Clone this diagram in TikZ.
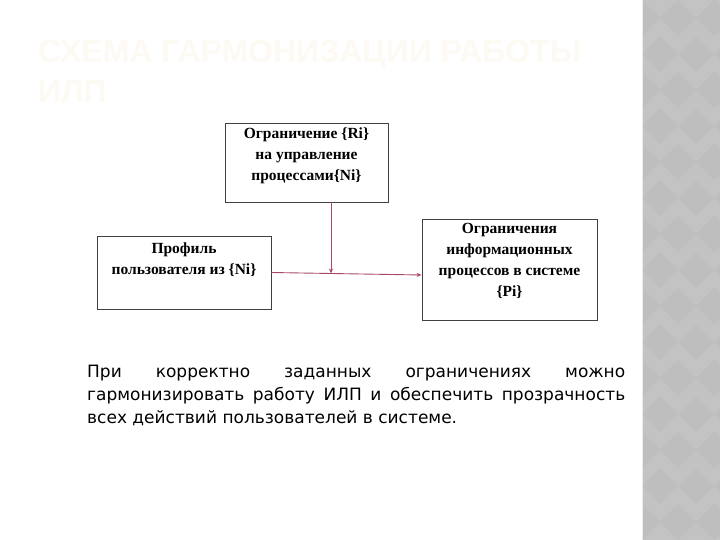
\documentclass[tikz,border=0pt]{standalone}
\usepackage{fontspec}
\setmainfont{Liberation Serif}
\newfontfamily\bodyfont{DejaVu Sans}
\newfontfamily\titlefont{Liberation Sans}
\usetikzlibrary{arrows.meta,calc}
\definecolor{conncol}{HTML}{A8466E}
\definecolor{titlecol}{HTML}{FDF9F3}
\definecolor{stripcol}{HTML}{C3C3C3}
\definecolor{stripdark}{HTML}{BEBEBE}
\tikzset{
  box/.style={draw=black!75, line width=0.9pt, rectangle, inner sep=0pt},
  boxtext/.style={font=\fontsize{15.5}{21}\selectfont\bfseries, align=center, anchor=north, inner sep=0pt},
  conn/.style={draw=conncol, line width=0.9pt, -{Stealth[length=5pt,width=4pt]}},
}
\begin{document}
\begin{tikzpicture}[x=1pt,y=-1pt]
\useasboundingbox (0,0) rectangle (720,540);
% right strip
\fill[stripcol] (642,0) rectangle (720,540);
\begin{scope}
\clip (642,0) rectangle (720,540);
\foreach \i in {0,...,3}{
  \foreach \j in {0,...,16}{
    \fill[stripdark] ({642+\i*36+mod(\j,2)*18},{\j*36}) -- ++(18,18) -- ++(-18,18) -- ++(-18,-18) -- cycle;
  }
}
\end{scope}
\draw[white!85!gray, line width=1pt] (642.5,0) -- (642.5,540);
% title
\node[anchor=north west, inner sep=0pt, text=titlecol, align=left,
      font=\titlefont\bfseries\fontsize{32}{40}\selectfont] (title) at (38,40)
  {СХЕМА ГАРМОНИЗАЦИИ РАБОТЫ\\ИЛП};
% boxes
\node[box, minimum width=163pt, minimum height=79pt] (top) at (306.5,162.5) {};
\node[box, minimum width=174pt, minimum height=73pt] (left) at (184,272.5) {};
\node[box, minimum width=175pt, minimum height=101pt] (right) at (509.5,269.5) {};
\node[boxtext] (toptext) at (306.5,128) {Ограничение \{Ri\}\\на управление\\процессами\{Ni\}};
\node[boxtext] (lefttext) at (184,243) {Профиль\\пользователя из \{Ni\}};
\node[boxtext] (righttext) at (509.5,223) {Ограничения\\информационных\\процессов в системе\\\{Pi\}};
% connectors
\coordinate (j) at (331,273.5);
\draw[conn] (left.east) -- ($(right.west)+(0,5.5)$);
\draw[conn] ($(top.south)+(24.5,0)$) -- (j);
% paragraph
\node[anchor=north west, inner sep=0pt, text width=538pt, align=justify,
      font=\bodyfont\fontsize{17}{23}\selectfont] (para) at (87,365)
  {При корректно заданных ограничениях можно\linebreak гармонизировать работу ИЛП и обеспечить прозрачность\linebreak всех действий пользователей в системе.};
\end{tikzpicture}
\end{document}
